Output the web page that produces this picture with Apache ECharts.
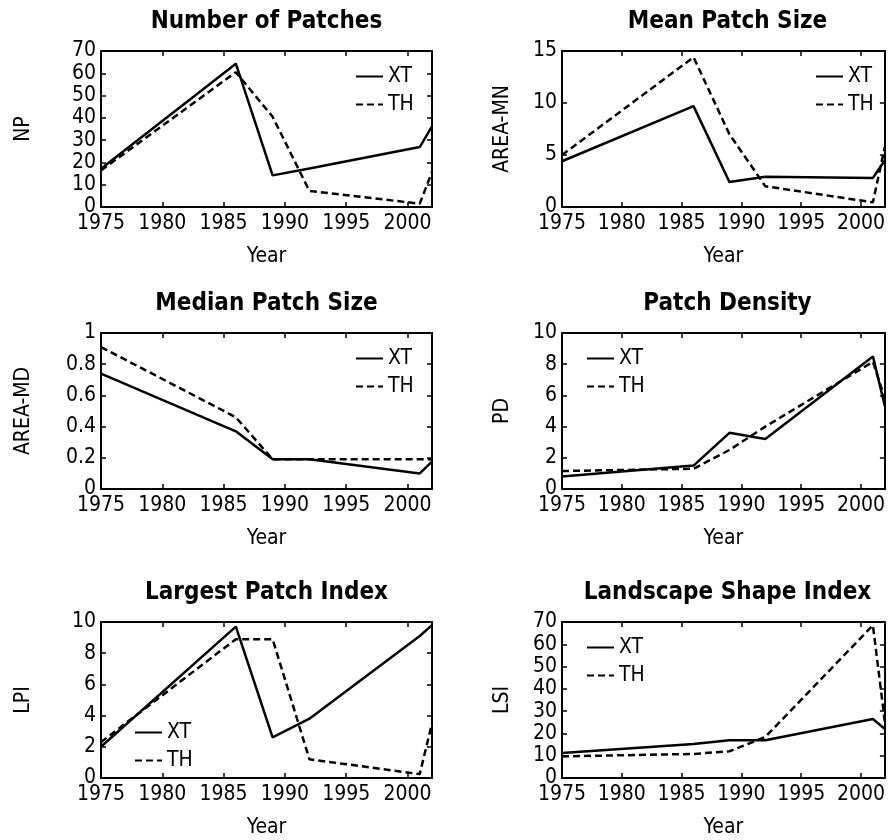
<!DOCTYPE html>
<html>
<head>
<meta charset="utf-8">
<script src="https://cdn.jsdelivr.net/npm/echarts@6/dist/echarts.min.js"></script>
<style>
  html, body { margin: 0; padding: 0; background: #fff; }
  #chart { width: 888px; height: 840px; }
</style>
</head>
<body>
<div id="chart"></div>
<script>
// years of the images
var years = [1975, 1986, 1989, 1992, 2001, 2002];

// values, one array per metric and site
var npXT = [17.2, 64.3, 14.2, 17.3, 26.9, 36.2];
var npTH = [16.4, 60.5, 40.5, 7.2, 1.5, 15.7];
var mnXT = [4.4, 9.7, 2.4, 2.9, 2.8, 4.5];
var mnTH = [5.0, 14.4, 7.0, 2.0, 0.45, 5.8];
var mdXT = [0.74, 0.37, 0.19, 0.19, 0.10, 0.175];
var mdTH = [0.91, 0.46, 0.19, 0.19, 0.19, 0.19];
var pdXT = [0.8, 1.5, 3.6, 3.2, 8.5, 5.3];
var pdTH = [1.15, 1.3, 2.5, 4.0, 8.15, 5.8];
var lpiXT = [2.0, 9.7, 2.6, 3.8, 9.1, 9.8];
var lpiTH = [2.3, 8.9, 8.9, 1.2, 0.25, 3.5];
var lsiXT = [11.2, 15.3, 16.9, 16.9, 26.5, 22];
var lsiTH = [9.7, 10.8, 12, 18.4, 68.5, 25];

var titles = ['Number of Patches', 'Mean Patch Size', 'Median Patch Size', 'Patch Density', 'Largest Patch Index', 'Landscape Shape Index'];
var yNames = ['NP', 'AREA-MN', 'AREA-MD', 'PD', 'LPI', 'LSI'];
var yMax = [70, 15, 1, 10, 10, 70];
var yStep = [10, 5, 0.2, 2, 2, 10];
var xtData = [npXT, mnXT, mdXT, pdXT, lpiXT, lsiXT];
var thData = [npTH, mnTH, mdTH, pdTH, lpiTH, lsiTH];

// panel layout (px)
var colLeft = [101, 562];
var rowTop = [51, 333, 622];
var plotW = 331, plotH = 156;
// legend anchor per panel: [left, top]
var legendPos = [[355, 66], [815, 66], [355, 348], [586, 348], [134, 722], [586, 637]];

var FONT = '"DejaVu Sans Condensed", "Liberation Sans Narrow", sans-serif';

function pairs(vals) {
  return years.map(function (y, k) { return [y, vals[k]]; });
}
function axisLine() {
  return { show: true, onZero: false, lineStyle: { color: '#000', width: 2 } };
}
function axisTick() {
  return { show: true, inside: true, length: 5, lineStyle: { color: '#000', width: 1.5 } };
}
function txt(size, weight) {
  return { fontSize: size, color: '#000', fontFamily: FONT, fontWeight: weight || 'normal' };
}
function plain(v) { return String(v); }

function buildOption() {
  var grid = [], xAxis = [], yAxis = [], series = [], title = [], legend = [];

  for (var i = 0; i < 6; i++) {
    var col = i % 2, row = Math.floor(i / 2);
    var gx = colLeft[col], gy = rowTop[row];
    grid.push({ left: gx, top: gy, width: plotW, height: plotH });

    title.push({
      text: titles[i],
      left: gx + plotW / 2,
      top: gy - 41,
      textAlign: 'center',
      padding: 0,
      textStyle: txt(24, 'bold')
    });

    // bottom / left axes carry the labels, top / right only close the box
    xAxis.push({
      type: 'value', gridIndex: i, min: 1975, max: 2002, interval: 5,
      axisLine: axisLine(), axisTick: axisTick(), splitLine: { show: false },
      axisLabel: Object.assign({ showMaxLabel: false, margin: 6, formatter: plain }, txt(21)),
      name: 'Year', nameLocation: 'middle', nameGap: 39,
      nameTextStyle: txt(21)
    });
    xAxis.push({
      type: 'value', gridIndex: i, position: 'top', min: 1975, max: 2002, interval: 5,
      axisLine: axisLine(), axisTick: axisTick(), splitLine: { show: false },
      axisLabel: { show: false }
    });
    yAxis.push({
      type: 'value', gridIndex: i, min: 0, max: yMax[i], interval: yStep[i],
      axisLine: axisLine(), axisTick: axisTick(), splitLine: { show: false },
      axisLabel: Object.assign({ margin: 5, formatter: plain }, txt(21)),
      name: yNames[i], nameLocation: 'middle', nameRotate: 90, nameGap: col === 0 ? 67 : 49,
      nameTextStyle: txt(21)
    });
    yAxis.push({
      type: 'value', gridIndex: i, position: 'right', min: 0, max: yMax[i], interval: yStep[i],
      axisLine: axisLine(), axisTick: axisTick(), splitLine: { show: false },
      axisLabel: { show: false }
    });

    series.push({
      name: 'XT', type: 'line', xAxisIndex: 2 * i, yAxisIndex: 2 * i,
      data: pairs(xtData[i]), symbol: 'none',
      lineStyle: { color: '#000', width: 2.5 }, itemStyle: { color: '#000' }
    });
    series.push({
      name: 'TH', type: 'line', xAxisIndex: 2 * i, yAxisIndex: 2 * i,
      data: pairs(thData[i]), symbol: 'none',
      lineStyle: { color: '#000', width: 2.5, type: [7, 4] }, itemStyle: { color: '#000' }
    });

    legend.push({
      data: ['XT', 'TH'], orient: 'vertical',
      left: legendPos[i][0], top: legendPos[i][1], padding: 0,
      itemWidth: 27, itemHeight: 14, itemGap: 7, selectedMode: false,
      itemStyle: { opacity: 0 },
      textStyle: txt(21)
    });
  }

  return {
    animation: false,
    title: title,
    legend: legend,
    grid: grid,
    xAxis: xAxis,
    yAxis: yAxis,
    series: series
  };
}

var chart = echarts.init(document.getElementById('chart'));
chart.setOption(buildOption());
</script>
</body>
</html>
